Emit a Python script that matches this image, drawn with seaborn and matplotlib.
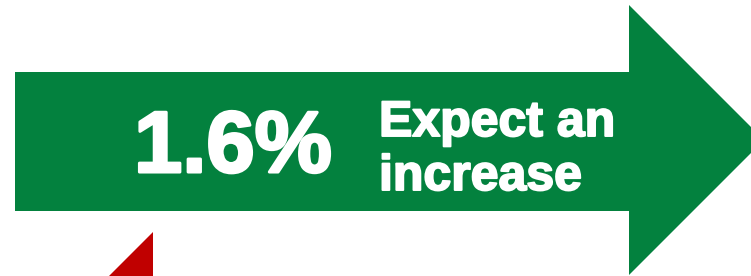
import matplotlib
matplotlib.use("Agg")
import matplotlib.pyplot as plt
import matplotlib.patheffects as pe
import seaborn as sns

# Data
change_pct = 1.6
headline = ["Expect an", "increase"]
up_color = "#03813E"
down_color = "#C00000"

sns.set_style("white")
plt.rcParams['font.family'] = ['Liberation Sans', 'DejaVu Sans']

fig = plt.figure(figsize=(7.51, 2.76), dpi=100)
ax = fig.add_axes([0, 0, 1, 1])
ax.set_xlim(0, 751)
ax.set_ylim(276, 0)
ax.axis('off')

# green arrow (body + head), pixel layout
body_x0, body_x1, body_y0, body_y1 = 15, 629, 72, 211
head_top, head_bot, tip_x = 5, 275, 764
arrow_x = [body_x0, body_x1, body_x1, tip_x, body_x1, body_x1, body_x0]
arrow_y = [body_y0, body_y0, head_top, (head_top + head_bot) / 2, head_bot, body_y1, body_y1]
ax.fill(arrow_x, arrow_y, color=up_color, lw=0)

# red shape peeking in at the bottom
ax.fill([109, 153, 153], [276, 232, 276], color=down_color, lw=0)

# texts (stroke makes the bold look heavier)
big = [pe.withStroke(linewidth=2.2, foreground="white")]
small = [pe.withStroke(linewidth=1.4, foreground="white")]
ax.text(134, 172, f"{change_pct}%", color="white", fontsize=62.5, fontweight="bold",
        ha="left", va="baseline", path_effects=big)
ax.text(379, 136, headline[0], color="white", fontsize=36, fontweight="bold",
        ha="left", va="baseline", path_effects=small)
ax.text(379, 190, headline[1], color="white", fontsize=36, fontweight="bold",
        ha="left", va="baseline", path_effects=small)

fig.savefig("out.png", dpi=100)
